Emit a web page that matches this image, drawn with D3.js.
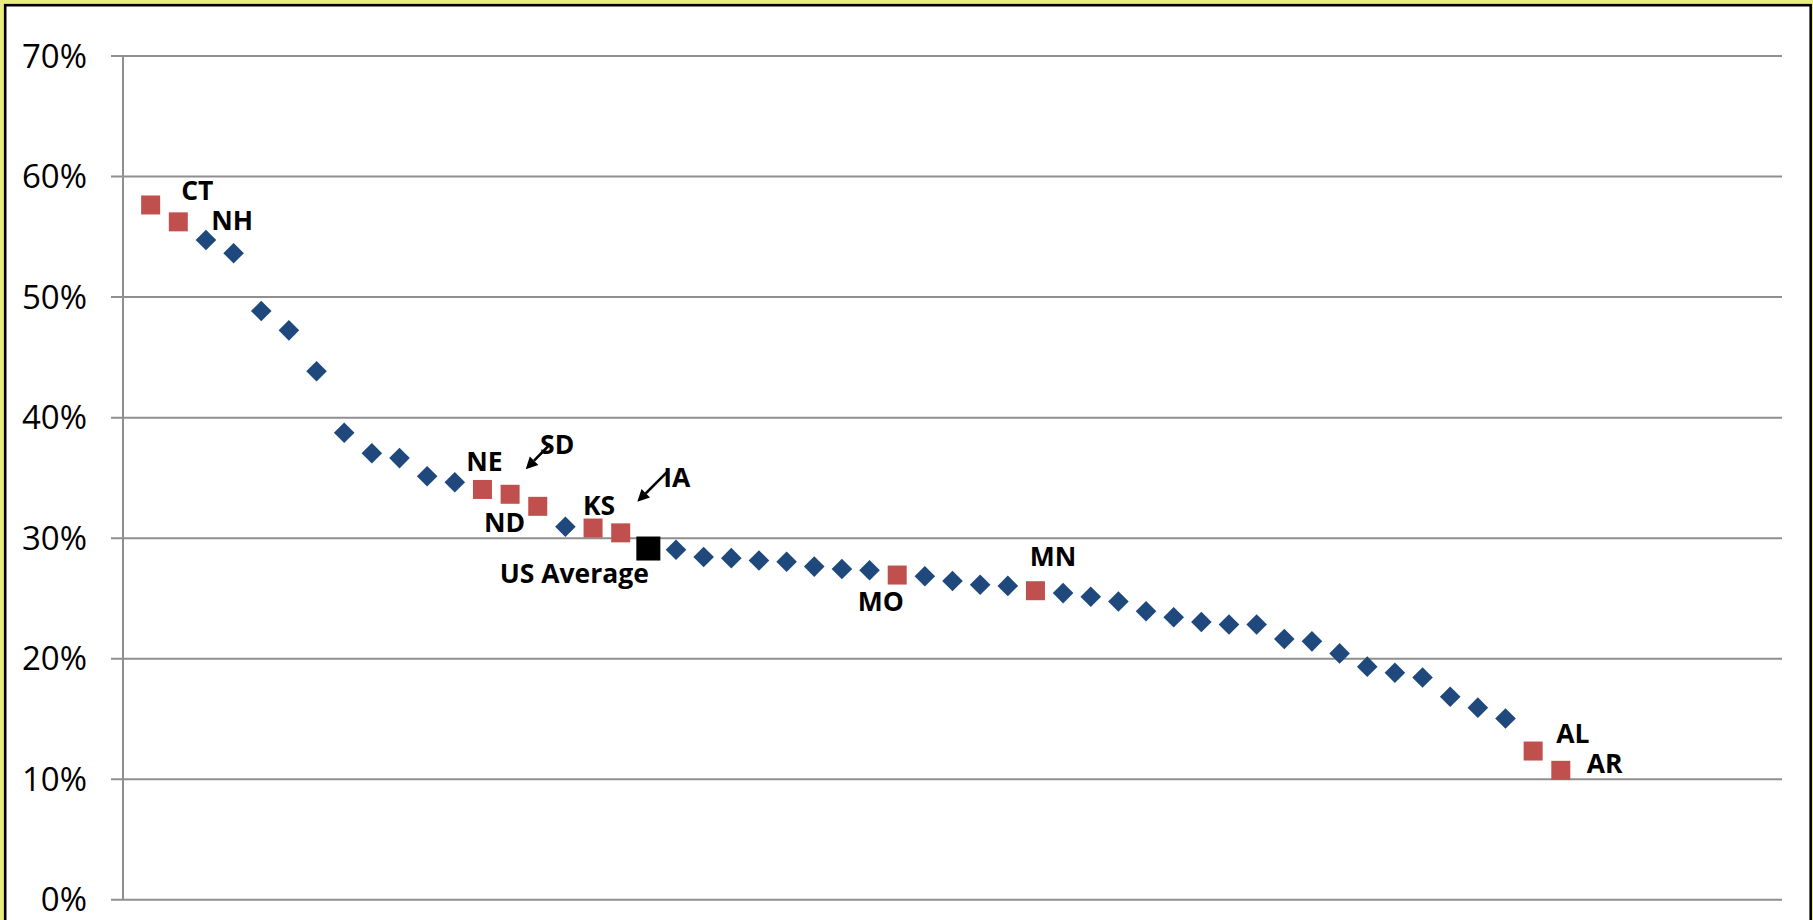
<!DOCTYPE html>
<html>
<head>
<meta charset="utf-8">
<script src="https://cdn.jsdelivr.net/npm/d3@7"></script>
<style>
  html, body { margin: 0; padding: 0; background: #EAEC7E; }
  svg { display: block; }
</style>
</head>
<body>
<svg id="chart" width="1813" height="920"></svg>
<script>
// Share by state, ranked from highest to lowest, with the national average in its rank position
const stateLabels = [
  "CT", "NH", "", "", "", "", "", "", "", "",
  "", "", "NE", "SD", "ND", "", "KS", "IA", "US Average", "",
  "", "", "", "", "", "", "", "MO", "", "",
  "", "", "MN", "", "", "", "", "", "", "",
  "", "", "", "", "", "", "", "", "", "",
  "AL", "AR"
];
const shares = [
  57.6, 56.2, 54.7, 53.6, 48.8, 47.2, 43.8, 38.7, 37.0, 36.6,
  35.1, 34.6, 34.0, 33.6, 32.6, 30.9, 30.8, 30.4, 29.1, 29.0,
  28.4, 28.3, 28.1, 28.0, 27.6, 27.4, 27.3, 26.9, 26.8, 26.4,
  26.1, 26.0, 25.6, 25.4, 25.1, 24.7, 23.9, 23.4, 23.0, 22.8,
  22.8, 21.6, 21.4, 20.4, 19.3, 18.8, 18.4, 16.8, 15.9, 15.0,
  12.3, 10.7
];
const yTicks = [0, 10, 20, 30, 40, 50, 60, 70];
const averageLabel = "US Average";
const arrowLabels = ["SD", "IA"];

const points = shares.map((v, i) => ({ rank: i + 1, value: v, label: stateLabels[i] }));

const svg = d3.select("#chart");
const W = 1813, H = 920;

// Chart frame
svg.append("rect")
  .attr("x", 5.2).attr("y", 5.2)
  .attr("width", 1805.5).attr("height", H + 20)
  .attr("fill", "#ffffff")
  .attr("stroke", "#000").attr("stroke-width", 2.6);

const plot = { left: 123, right: 1782, top: 55.5, bottom: 899.3 };

const x = d3.scaleLinear().domain([0, 60]).range([plot.left, plot.right]);
const y = d3.scaleLinear().domain([0, 70]).range([plot.bottom, plot.top]);

// Horizontal gridlines with short ticks on the left
const yAxis = d3.axisLeft(y)
  .tickValues(yTicks)
  .tickSize(-(plot.right - plot.left))
  .tickPadding(0)
  .tickFormat(d => d + "%");

const gy = svg.append("g")
  .attr("transform", `translate(${plot.left},0)`)
  .call(yAxis);
gy.select(".domain").remove();
gy.selectAll(".tick line")
  .attr("x1", -12)
  .attr("stroke", "#8F8F8F")
  .attr("stroke-width", 2);
gy.selectAll(".tick text")
  .attr("x", -36)
  .attr("dy", "0.35em")
  .attr("fill", "#000")
  .style("font-family", "'Open Sans', sans-serif")
  .style("font-size", "33px")
  .attr("text-anchor", "end");

// Vertical axis line
svg.append("line")
  .attr("x1", plot.left).attr("x2", plot.left)
  .attr("y1", y(70)).attr("y2", y(0))
  .attr("stroke", "#8F8F8F").attr("stroke-width", 2);

const BLUE = "#1F497D", RED = "#C0504D";

// Unlabeled states: diamonds
const diamond = 10.3;
svg.append("g").selectAll("path")
  .data(points.filter(d => d.label === ""))
  .join("path")
  .attr("transform", d => `translate(${x(d.rank)},${y(d.value)})`)
  .attr("d", `M0,${-diamond}L${diamond},0L0,${diamond}L${-diamond},0Z`)
  .attr("fill", BLUE);

// Highlighted states: red squares
const sq = 19;
svg.append("g").selectAll("rect")
  .data(points.filter(d => d.label !== "" && d.label !== averageLabel))
  .join("rect")
  .attr("x", d => x(d.rank) - sq / 2)
  .attr("y", d => y(d.value) - sq / 2)
  .attr("width", sq).attr("height", sq)
  .attr("fill", RED);

// National average: black square
const bsq = 24;
svg.append("g").selectAll("rect")
  .data(points.filter(d => d.label === averageLabel))
  .join("rect")
  .attr("x", d => x(d.rank) - bsq / 2)
  .attr("y", d => y(d.value) - bsq / 2)
  .attr("width", bsq).attr("height", bsq)
  .attr("fill", "#000");

// Label placement around each highlighted marker
const placement = {
  "CT": { dx: 30.5, dy: -5, anchor: "start" },
  "NH": { dx: 33, dy: 8, anchor: "start" },
  "NE": { dx: 2, dy: -18, anchor: "middle" },
  "SD": { dx: 30, dy: -40, anchor: "start" },
  "ND": { dx: -12.5, dy: 26, anchor: "end" },
  "KS": { dx: 6, dy: -13, anchor: "middle" },
  "IA": { dx: 42.5, dy: -46, anchor: "start" },
  "US Average": { dx: 0.5, dy: 34, anchor: "end" },
  "MO": { dx: -16.5, dy: 36, anchor: "middle" },
  "MN": { dx: 17.5, dy: -25, anchor: "middle" },
  "AL": { dx: 23, dy: -8, anchor: "start" },
  "AR": { dx: 26, dy: 3, anchor: "start" }
};

const labeled = points.filter(d => d.label !== "");

// Arrows pointing from label to marker
const arrowGeom = {
  "SD": { x1: 40, y1: -50, x2: 15.6, y2: -25 },
  "IA": { x1: 47.5, y1: -62, x2: 16.6, y2: -31 }
};
const arrows = svg.append("g");
labeled.filter(d => arrowLabels.includes(d.label)).forEach(d => {
  const g = arrowGeom[d.label];
  const cx = x(d.rank), cy = y(d.value);
  const ax = cx + g.x1, ay = cy + g.y1, bx = cx + g.x2, by = cy + g.y2;
  const ang = Math.atan2(by - ay, bx - ax);
  const headLen = 12, headHalf = 6;
  const baseX = bx - headLen * Math.cos(ang), baseY = by - headLen * Math.sin(ang);
  arrows.append("line")
    .attr("x1", ax).attr("y1", ay).attr("x2", baseX).attr("y2", baseY)
    .attr("stroke", "#000").attr("stroke-width", 2.6);
  const px = -Math.sin(ang), py = Math.cos(ang);
  arrows.append("path")
    .attr("d", `M${bx},${by}L${baseX + px * headHalf},${baseY + py * headHalf}L${baseX - px * headHalf},${baseY - py * headHalf}Z`)
    .attr("fill", "#000");
});

svg.append("g").selectAll("text")
  .data(labeled)
  .join("text")
  .attr("x", d => x(d.rank) + placement[d.label].dx)
  .attr("y", d => y(d.value) + placement[d.label].dy)
  .attr("text-anchor", d => placement[d.label].anchor)
  .style("font-family", "'Open Sans', sans-serif")
  .style("font-weight", "bold")
  .style("font-size", "26.5px")
  .attr("fill", "#000")
  .text(d => d.label);
</script>
</body>
</html>
